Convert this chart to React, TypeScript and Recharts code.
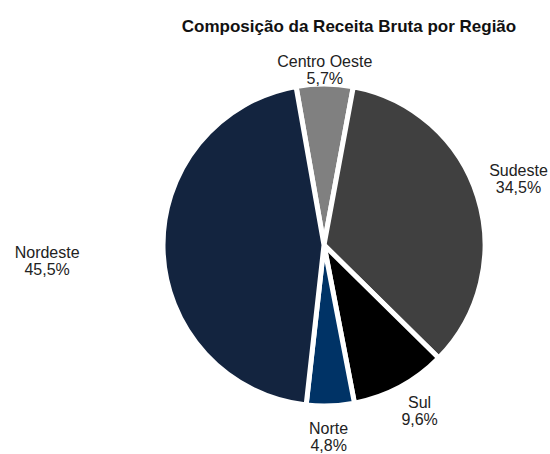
import React from "react";
import { Cell, Pie, PieChart } from "recharts";

const regions = ["Centro Oeste", "Sudeste", "Sul", "Norte", "Nordeste"];
const shares = [5.7, 34.5, 9.6, 4.8, 45.5];
const sliceColors = ["#808080", "#404040", "#000000", "#003366", "#13243f"];

const title = "Composição da Receita Bruta por Região";

const data = regions.map((name, i) => ({ name, value: shares[i] }));

const FONT = '"Liberation Sans", Arial, sans-serif';
const RAD = Math.PI / 180;
// extra distance of each label beyond the rim (Excel puts them unevenly),
// plus a small hand nudge so they sit where the original has them
const labelGap = [16, 45, 31, 32, 116];
const labelNudge = [
  [0, 2],
  [-2, -4],
  [5, -3],
  [-3, 0],
  [0, 8],
];

const fmt = (v: number) => v.toFixed(1).replace(".", ",") + "%";

function renderLabel(props: any) {
  const { cx, cy, midAngle, outerRadius, index, name, value } = props;
  const r = outerRadius + labelGap[index];
  const x = cx + r * Math.cos(-midAngle * RAD) + labelNudge[index][0];
  const y = cy + r * Math.sin(-midAngle * RAD) + labelNudge[index][1];
  return (
    <text
      x={x}
      y={y - 3.5}
      textAnchor="middle"
      fill="#222"
      fontSize={16}
      fontFamily={FONT}
    >
      <tspan x={x}>{name}</tspan>
      <tspan x={x} dy={17}>
        {fmt(value)}
      </tspan>
    </text>
  );
}

export default function App() {
  // pinned to the window corner so nothing gets clipped by the body box
  return (
    <div
      style={{
        position: "fixed",
        left: 0,
        top: 0,
        width: 550,
        height: 454,
        background: "#fff",
      }}
    >
      <PieChart
        width={550}
        height={454}
        margin={{ top: 0, right: 0, bottom: 0, left: 0 }}
      >
        <Pie
          data={data}
          dataKey="value"
          nameKey="name"
          cx={324}
          cy={245}
          outerRadius={161}
          startAngle={100}
          endAngle={-260}
          stroke="#ffffff"
          strokeWidth={5}
          labelLine={false}
          label={renderLabel}
          isAnimationActive={false}
        >
          {data.map((d, i) => (
            <Cell key={d.name} fill={sliceColors[i]} />
          ))}
        </Pie>
      </PieChart>
      <svg
        width={550}
        height={45}
        style={{ position: "absolute", left: 0, top: 0, pointerEvents: "none" }}
      >
        <text
          x={349}
          y={31.7}
          textAnchor="middle"
          fontSize={17}
          fontWeight="bold"
          fontFamily={FONT}
          fill="#111"
        >
          {title}
        </text>
      </svg>
    </div>
  );
}
